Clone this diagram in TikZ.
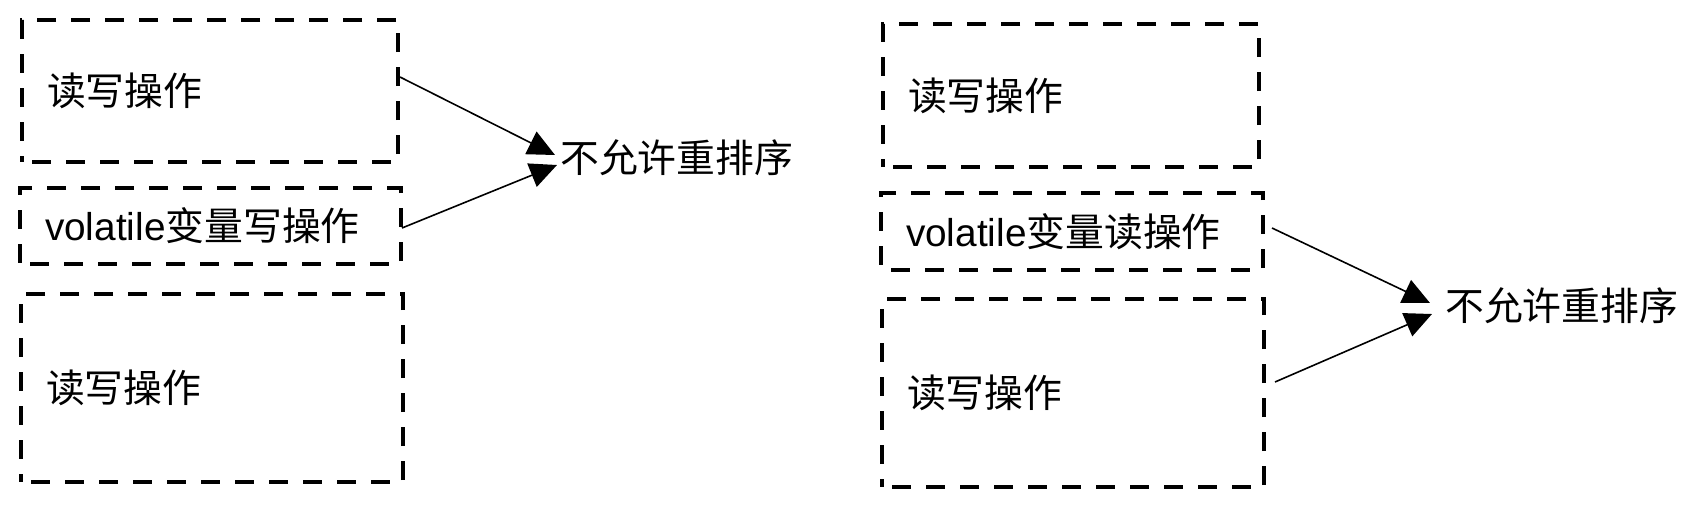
\documentclass[tikz,border=0pt]{standalone}
\usepackage{fontspec}
\setmainfont{Liberation Sans}
\newfontfamily\cjk{Noto Sans CJK SC}
\usetikzlibrary{arrows.meta,calc}
\tikzset{
  opbox/.style={draw, line width=3.2pt, dash pattern=on 19pt off 15pt, dash phase=-10pt, rectangle, anchor=north west,
    inner xsep=25pt, inner ysep=0pt, outer sep=0pt, align=left,
    font=\fontsize{38.8}{46}\selectfont},
  lbl/.style={anchor=west, inner sep=0pt, font=\fontsize{38.8}{46}\selectfont\cjk},
  conn/.style={line width=1.6pt, -{Triangle[length=27pt,width=25pt]}}
}
\begin{document}
\begin{tikzpicture}[x=1pt,y=-1pt]
\useasboundingbox (0,0) rectangle (1703,507);
% left group
\node[opbox, minimum width=376pt, minimum height=142pt, text width=326pt] (a1) at (22,20) {\cjk 读写操作};
\node[opbox, minimum width=381pt, minimum height=76pt, text width=331pt] (a2) at (20,188) {volatile{\cjk 变量写操作}};
\node[opbox, minimum width=382pt, minimum height=188pt, text width=332pt] (a3) at (21,294) {\cjk 读写操作};
\node[lbl] (t1) at (560,158) {不允许重排序};
\draw[conn] ($(a1.north east)+(2,57)$) -- ($(t1.west)+(-5,-3)$);
\draw[conn] ($(a2.north east)+(1,40)$) -- ($(t1.west)+(-3,7)$);
% right group
\node[opbox, minimum width=376pt, minimum height=143pt, text width=326pt] (b1) at (883,24) {\cjk 读写操作};
\node[opbox, minimum width=382pt, minimum height=77pt, text width=332pt] (b2) at (881,193) {volatile{\cjk 变量读操作}};
\node[opbox, minimum width=382pt, minimum height=188pt, text width=332pt] (b3) at (882,299) {\cjk 读写操作};
\node[lbl] (t2) at (1445,306) {不允许重排序};
\draw[conn] ($(b2.north east)+(9,35)$) -- ($(t2.west)+(-15,-3)$);
\draw[conn] ($(b3.north east)+(11,83)$) -- ($(t2.west)+(-13,8)$);
\end{tikzpicture}
\end{document}
